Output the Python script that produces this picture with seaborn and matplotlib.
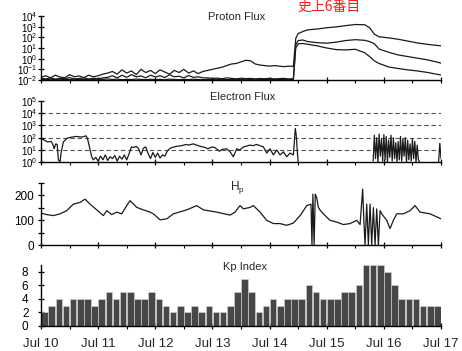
import numpy as np
import matplotlib
matplotlib.use('Agg')
import matplotlib.pyplot as plt
import seaborn as sns
from matplotlib.ticker import FixedLocator, NullLocator, LogFormatterSciNotation, NullFormatter

sns.set_theme(style='ticks')
plt.rcParams['font.family'] = ['Liberation Sans', 'DejaVu Sans']
plt.rcParams['mathtext.default'] = 'regular'

# ---------------- data ----------------
DAY_LABELS = ['Jul 10', 'Jul 11', 'Jul 12', 'Jul 13', 'Jul 14', 'Jul 15', 'Jul 16', 'Jul 17']
PANEL_TITLES = ['Proton Flux', 'Electron Flux', 'H$_p$', 'Kp Index']
NOTE = '史上6番目'

# Proton flux, log10 values; hours after Jul 10 00UT
PRE_HOURS = np.arange(0, 108, 2)
P1_PRE = [-1.75, -1.6, -1.8, -1.55, -1.72, -1.8, -1.5, -1.7, -1.62, -1.78, -1.55, -1.7, -1.6, -1.45, -1.35,
          -1.2, -1.45, -1.05, -1.35, -1.15, -1.5, -1.0, -1.3, -1.1, -1.4, -1.05, -1.25, -1.45, -1.1, -1.3,
          -1.0, -1.35, -1.15, -1.4, -1.2,
          -1.1, -1.0, -0.9, -0.8, -0.65, -0.5, -0.45, -0.3, -0.15, -0.2, -0.5, -0.6, -0.65, -0.7, -0.65,
          -0.7, -0.75, -0.7, -0.72]
P2_PRE = [-1.85, -1.9, -1.8, -1.92, -1.85, -1.88, -1.78, -1.9, -1.86, -1.8, -1.92, -1.84, -1.88, -1.8, -1.75,
          -1.6, -1.8, -1.55, -1.75, -1.5, -1.7, -1.62, -1.8, -1.55, -1.72, -1.6, -1.78, -1.5, -1.7, -1.65,
          -1.8, -1.58, -1.75, -1.7, -1.8,
          -1.8, -1.85, -1.82, -1.88, -1.8, -1.85, -1.9, -1.83, -1.87, -1.85, -1.9, -1.86, -1.88, -1.84, -1.9,
          -1.87, -1.85, -1.9, -1.88]
P3_PRE = [-1.95, -1.97, -1.93, -1.96, -1.98, -1.94, -1.96, -1.92, -1.97, -1.95,
          -1.93, -1.96, -1.98, -1.94, -1.9, -1.95, -1.92, -1.97, -1.94, -1.96,
          -1.91, -1.95, -1.97, -1.93, -1.96, -1.94, -1.98, -1.92, -1.95, -1.97,
          -1.94, -1.96, -1.93, -1.95, -1.97, -1.94, -1.96, -1.95, -1.93, -1.97,
          -1.95, -1.94, -1.96, -1.98, -1.95, -1.93, -1.96, -1.94, -1.97, -1.95,
          -1.96, -1.94, -1.97, -1.95]
POST_HOURS = [107, 108, 110, 112, 116, 120, 124, 128, 132, 136, 138, 140, 142, 146, 150, 154, 158, 162, 166, 168]
P1_POST = [1.9, 2.35, 2.55, 2.7, 2.78, 2.9, 2.98, 3.1, 3.2, 3.18, 2.9, 2.3, 2.05, 1.95, 1.82, 1.65, 1.48, 1.35, 1.25, 1.2]
P2_POST = [1.3, 1.7, 1.75, 1.6, 1.5, 1.45, 1.55, 1.7, 1.78, 1.72, 1.6, 1.4, 0.9, 0.6, 0.35, 0.2, 0.05, -0.1, -0.3, -0.42]
P3_POST = [1.0, 1.4, 1.42, 1.35, 1.2, 1.0, 0.85, 0.82, 0.88, 0.55, 0.2, -0.2, -0.45, -0.78, -0.92, -1.05, -1.15, -1.28, -1.45, -1.53]
P_TICK_EXP = [-2, -1, 0, 1, 2, 3, 4]

# Electron flux, log10 values
E1_H = [0, 1.4, 2.8, 4.2, 5.0, 5.5, 6.2, 6.8, 7.3, 8.0,
        8.5, 9.4, 10.8, 12.9, 15.0, 17.0, 18.9, 19.5, 20.3, 21.3,
        22, 23, 24, 25, 26, 27, 28, 29, 30, 31,
        32, 33, 34, 35, 36, 37, 38, 39, 40, 41,
        42, 43, 44, 45, 46, 47, 48, 49, 50, 51,
        52, 53, 54, 55, 57, 59, 61, 62, 64, 66,
        67, 69, 70, 72, 73, 75, 76, 78, 79.4, 80.8,
        82.2, 83.5, 85, 87.8, 89, 90.6, 92, 93.4, 94.8, 96.2,
        97.6, 99, 100.4, 101.8, 103.2, 104.6, 106, 106.8, 107.2, 107.6,
        108]
E1_V = [1.95, 1.8, 1.65, 1.7, 1.45, 1.1, 1.5, 1.45, 0.2, 0.05,
        0.85, 1.65, 1.95, 2.05, 2.1, 2.05, 2.15, 1.95, 1.3, 0.45,
        0.2, 0.4, 0.1, 0.5, 0.2, 0.6, 0.15, 0.45, 0.3, 0.55,
        0.1, 0.5, 0.25, 0.6, 0.2, 0.7, 1.25, 1.2, 1.3, 1.1,
        0.6, 1.15, 1.25, 0.7, 0.3, 0.8, 0.4, 0.75, 0.35, 0.6,
        0.5, 0.9, 1.1, 1.2, 1.3, 1.35, 1.45, 1.4, 1.5, 1.35,
        1.3, 1.2, 1.1, 1.25, 1.2, 0.9, 1.05, 1.1, 0.85, 0.45,
        1.1, 1.0, 1.25, 1.4, 1.35, 1.45, 1.35, 1.25, 0.75, 1.1,
        0.6, 1.0, 0.6, 0.85, 0.45, 0.75, 0.6, 2.75, 2.2, 1.0,
        0.05]
E2_H = np.arange(139.5, 159.5, 0.5)
E2_V = [0.1, 2.2, 0.3, 2.0, 0.0, 2.3, 0.5, 1.9, 0.1, 2.25,
        0.2, 2.1, 0.0, 1.8, 0.4, 2.2, 0.1, 2.0, 0.3, 1.6,
        0.0, 1.7, 0.2, 2.1, 0.1, 1.9, 0.5, 2.0, 0.0, 1.8,
        0.2, 1.5, 0.1, 1.9, 0.3, 1.7, 0.0, 1.4, 0.2, 0.05]
E3_H = [167.0, 167.5, 168.0]
E3_V = [0.05, 1.55, 0.3]
E_TICK_EXP = [0, 1, 2, 3, 4, 5]
E_LEVELS = [1e1, 1e2, 1e3, 1e4]

# Hp index
HP_H = [0, 2.4, 5.2, 8, 10.8, 13.6, 16.4, 18.5, 20.6, 23.4,
        26.2, 27.6, 29.7, 31.8, 33.9, 36, 37.4, 40.2, 43, 45.8,
        47.2, 50, 52.8, 55.6, 61.2, 65.4, 68.2, 73.8, 79.4, 81.5,
        82.9, 83.6, 85, 87.8, 89.2, 92, 94.8, 97.6, 100.4, 103.2,
        106, 109, 111.6, 113.4, 113.8, 114.2, 114.7, 115.2, 115.8, 116.5,
        117.2, 118.6, 121.4, 124.2, 127, 129.8, 132.6, 134, 135.1, 135.6,
        136.1, 136.8, 137.5, 138.2, 138.9, 139.6, 140.3, 141, 141.7, 142.4,
        143.1, 145.2, 146.6, 148, 149.4, 152.2, 155, 157.1, 159.2, 163.4,
        168]
HP_V = [128, 122, 118, 125, 138, 164, 171, 184, 164, 141,
        118, 138, 122, 132, 125, 158, 178, 151, 141, 132,
        125, 101, 105, 125, 141, 158, 141, 132, 120, 132,
        150, 158, 145, 151, 158, 132, 99, 86, 86, 79,
        88, 120, 158, 164, 0, 204, 0, 204, 190, 151,
        140, 125, 99, 92, 82, 86, 99, 82, 224, 100,
        0, 164, 0, 164, 0, 150, 0, 145, 0, 138,
        125, 99, 66, 99, 125, 125, 138, 158, 132, 125,
        105]

# Kp index, 3-hourly
KP = [2, 3, 4, 3, 4, 4, 4, 3,
      4, 5, 4, 5, 5, 4, 4, 5,
      4, 3, 2, 3, 2, 3, 2, 3,
      2, 2, 3, 5, 7, 5, 2, 3,
      4, 3, 4, 4, 4, 6, 5, 4,
      4, 4, 5, 5, 6, 9, 9, 9,
      8, 6, 4, 4, 4, 3, 3, 3]

# ---------------- figure ----------------
FW, FH = 462, 351
fig = plt.figure(figsize=(FW / 100, FH / 100), dpi=100)
L, R = 41, 441


def rect(top, bot):
    return [L / FW, 1 - bot / FH, (R - L) / FW, (bot - top) / FH]


ax1 = fig.add_axes(rect(16, 80))
ax2 = fig.add_axes(rect(100.8, 162.3))
ax3 = fig.add_axes(rect(182.7, 245))
ax4 = fig.add_axes(rect(265, 326))
axes = [ax1, ax2, ax3, ax4]

LINE = '#1a1a1a'

# Proton flux
ph = np.concatenate([PRE_HOURS, POST_HOURS]) / 24.0
for pre, post in [(P1_PRE, P1_POST), (P2_PRE, P2_POST), (P3_PRE, P3_POST)]:
    yv = 10.0 ** np.concatenate([pre, post])
    sns.lineplot(x=ph, y=yv, ax=ax1, color=LINE, lw=0.9, estimator=None, sort=False)
ax1.set_yscale('log')
ax1.set_ylim(10.0 ** P_TICK_EXP[0], 10.0 ** P_TICK_EXP[-1])
ax1.yaxis.set_major_locator(FixedLocator([10.0 ** k for k in P_TICK_EXP]))
ax1.yaxis.set_major_formatter(LogFormatterSciNotation())
ax1.yaxis.set_minor_locator(NullLocator())

# Electron flux
for lv in E_LEVELS:
    ax2.axhline(lv, color='#555555', lw=0.8, ls=(0, (4, 2.5)), zorder=0)
sns.lineplot(x=np.array(E1_H) / 24.0, y=10.0 ** np.array(E1_V), ax=ax2, color=LINE, lw=0.9,
             estimator=None, sort=False)
sns.lineplot(x=E2_H / 24.0, y=10.0 ** np.array(E2_V), ax=ax2, color=LINE, lw=0.9,
             estimator=None, sort=False)
sns.lineplot(x=np.array(E3_H) / 24.0, y=10.0 ** np.array(E3_V), ax=ax2, color=LINE, lw=0.9,
             estimator=None, sort=False)
ax2.set_yscale('log')
ax2.set_ylim(10.0 ** E_TICK_EXP[0], 10.0 ** E_TICK_EXP[-1])
ax2.yaxis.set_major_locator(FixedLocator([10.0 ** k for k in E_TICK_EXP]))
ax2.yaxis.set_major_formatter(LogFormatterSciNotation())
ax2.yaxis.set_minor_locator(NullLocator())

# Hp
sns.lineplot(x=np.array(HP_H) / 24.0, y=HP_V, ax=ax3, color=LINE, lw=0.9, estimator=None, sort=False)
ax3.set_ylim(0, 250)
ax3.set_yticks([0, 100, 200])
ax3.yaxis.set_minor_locator(FixedLocator([50, 150, 250]))

# Kp
kp_mid = (np.arange(len(KP)) * 3 + 1.5) / 24.0
sns.barplot(x=kp_mid, y=KP, ax=ax4, native_scale=True, width=0.92, color='#474747',
            saturation=1, errorbar=None, edgecolor='#d8d8d8', linewidth=0.4)
ax4.set_ylim(0, 9)
ax4.set_yticks([0, 2, 4, 6, 8])

# common x axis
for i, ax in enumerate(axes):
    ax.set_xlim(0, 7)
    ax.set_xticks(range(8))
    ax.xaxis.set_minor_locator(FixedLocator(np.arange(0.5, 7, 1.0)))
    ax.set_xlabel('')
    ax.set_ylabel('')
    for s in ['top', 'right']:
        ax.spines[s].set_visible(False)
    for s in ['left', 'bottom']:
        ax.spines[s].set_color('black')
        ax.spines[s].set_linewidth(1.0)
    ax.tick_params(axis='x', which='major', direction='inout', length=5, width=0.9, color='black')
    ax.tick_params(axis='x', which='minor', direction='out', length=2.5, width=0.8, color='black')
    ax.tick_params(axis='y', which='both', direction='inout', length=4, width=0.9, color='black',
                   labelcolor='black')
    if i < 3:
        ax.set_xticklabels([])
    else:
        ax.set_xticklabels(DAY_LABELS, fontsize=9.5)
        ax.tick_params(axis='x', which='major', pad=6)

ax1.tick_params(axis='y', labelsize=7, pad=0.5)
ax2.tick_params(axis='y', labelsize=7, pad=0.5)
ax3.tick_params(axis='y', labelsize=8.5, pad=3)
ax4.tick_params(axis='y', labelsize=8.5, pad=7)

# titles
ax1.text(0.489, 1 - 1.5 / 64, PANEL_TITLES[0], transform=ax1.transAxes, ha='center', va='center', fontsize=8)
ax2.text(0.504, 1 + 3.8 / 61.5, PANEL_TITLES[1], transform=ax2.transAxes, ha='center', va='center', fontsize=8)
ax3.text(0.491, 1 - 5 / 62.3, PANEL_TITLES[2], transform=ax3.transAxes, ha='center', va='center', fontsize=8.5)
ax4.text(0.51, 1 - 1.5 / 61, PANEL_TITLES[3], transform=ax4.transAxes, ha='center', va='center', fontsize=8)

fig.text(328.5 / FW, 1 - 6.5 / FH, NOTE, color='#ff1a1a', ha='center', va='center', fontsize=10,
         family=['Noto Sans CJK JP', 'DejaVu Sans'])

fig.savefig('out.png', dpi=100)
